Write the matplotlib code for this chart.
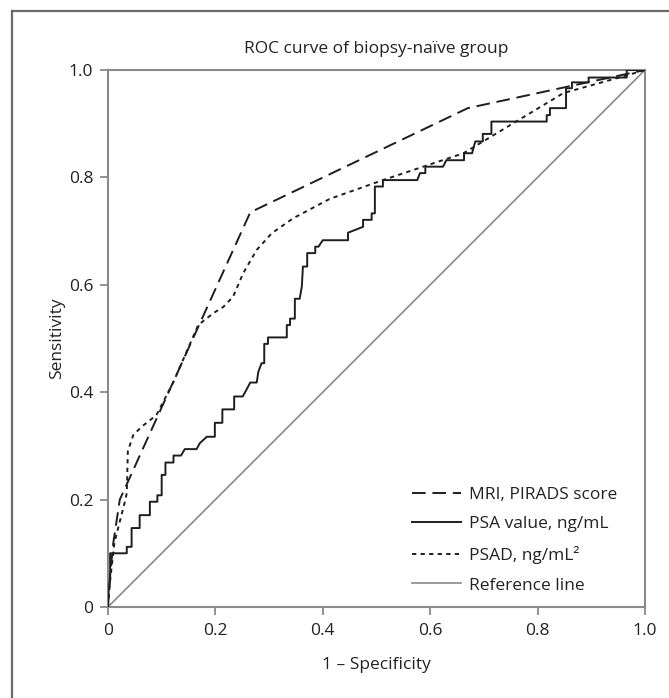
import matplotlib
matplotlib.use("Agg")
import matplotlib.pyplot as plt
from matplotlib.lines import Line2D

plt.rcParams['font.family'] = ['Open Sans', 'DejaVu Sans']

# MRI, PIRADS score (piecewise linear ROC)
mri_fpr = [0, 0.004, 0.010, 0.022, 0.265, 0.670, 1.0]
mri_tpr = [0, 0.060, 0.120, 0.200, 0.735, 0.929, 1.0]

# PSAD, ng/mL2
psad_fpr = [0, 0.004, 0.012, 0.030, 0.035, 0.037, 0.047, 0.063, 0.090, 0.121, 0.168,
            0.196, 0.215, 0.233, 0.252, 0.277, 0.305, 0.345, 0.413, 0.512, 0.662,
            0.755, 0.848, 0.966, 1.0]
psad_tpr = [0, 0.050, 0.120, 0.190, 0.212, 0.290, 0.320, 0.336, 0.357, 0.417, 0.525,
            0.547, 0.559, 0.578, 0.622, 0.665, 0.696, 0.724, 0.760, 0.795, 0.845,
            0.901, 0.957, 0.990, 1.0]

# PSA value, ng/mL (step ROC)
psa_fpr = [0, 0, 0.004, 0.004, 0.035, 0.035, 0.044, 0.044, 0.059, 0.059, 0.078, 0.078,
           0.092, 0.092, 0.100, 0.100, 0.107, 0.107, 0.122, 0.122, 0.136, 0.143, 0.165,
           0.171, 0.184, 0.199, 0.199, 0.213, 0.213, 0.235, 0.235, 0.251, 0.265, 0.277,
           0.280, 0.286, 0.291, 0.291, 0.298, 0.298, 0.333, 0.333, 0.339, 0.339, 0.348,
           0.348, 0.357, 0.361, 0.363, 0.371, 0.371, 0.386, 0.386, 0.392, 0.400, 0.447,
           0.447, 0.475, 0.475, 0.491, 0.491, 0.497, 0.497, 0.512, 0.512, 0.576, 0.581,
           0.591, 0.591, 0.624, 0.630, 0.663, 0.663, 0.678, 0.684, 0.698, 0.698, 0.714,
           0.714, 0.817, 0.817, 0.823, 0.823, 0.853, 0.853, 0.864, 0.864, 0.895, 0.895,
           0.966, 0.966, 1.0]
psa_tpr = [0, 0.020, 0.050, 0.100, 0.100, 0.112, 0.112, 0.147, 0.147, 0.171, 0.171, 0.196,
           0.196, 0.208, 0.208, 0.246, 0.246, 0.269, 0.269, 0.282, 0.282, 0.294, 0.294,
           0.305, 0.317, 0.317, 0.343, 0.343, 0.368, 0.368, 0.392, 0.392, 0.418, 0.418,
           0.438, 0.454, 0.454, 0.490, 0.490, 0.502, 0.502, 0.525, 0.525, 0.537, 0.537,
           0.574, 0.574, 0.597, 0.634, 0.634, 0.659, 0.659, 0.671, 0.671, 0.683, 0.683,
           0.697, 0.708, 0.721, 0.721, 0.733, 0.733, 0.783, 0.783, 0.795, 0.795, 0.808,
           0.808, 0.820, 0.820, 0.832, 0.832, 0.845, 0.845, 0.867, 0.867, 0.881, 0.881,
           0.904, 0.904, 0.916, 0.916, 0.929, 0.929, 0.966, 0.966, 0.977, 0.977, 0.986,
           0.986, 1.0, 1.0]

ref_x = [0, 1]
ref_y = [0, 1]

ticks = [0, 0.2, 0.4, 0.6, 0.8, 1.0]
tick_labels = ['0', '0.2', '0.4', '0.6', '0.8', '1.0']

dark = '#1e1e1e'
grey = '#8a8a8a'

fig = plt.figure(figsize=(6.69, 6.98), dpi=100)
ax = fig.add_axes([0.1614, 0.1304, 0.8027, 0.7693])

ax.plot(ref_x, ref_y, color=grey, lw=1.2, label='Reference line', zorder=2)
ax.plot(mri_fpr, mri_tpr, color=dark, lw=1.4, dashes=(7, 3.5), label='MRI, PIRADS score', zorder=3)
ax.plot(psa_fpr, psa_tpr, color=dark, lw=1.4, label='PSA value, ng/mL', zorder=3)
ax.plot(psad_fpr, psad_tpr, color=dark, lw=1.4, dashes=(2.2, 2.2), label='PSAD, ng/mL²', zorder=3)

ax.set_xlim(0, 1)
ax.set_ylim(0, 1)
ax.set_xticks(ticks)
ax.set_xticklabels(tick_labels)
ax.set_yticks(ticks)
ax.set_yticklabels(tick_labels)
for s in ax.spines.values():
    s.set_color(grey)
    s.set_linewidth(1.5)
ax.tick_params(direction='out', length=5.5, width=1.3, color=grey,
               labelsize=12.5, labelcolor='#222222', pad=5)
ax.tick_params(axis='x', pad=6)

ax.set_title('ROC curve of biopsy-naïve group', fontsize=12.5, color='#222222', pad=12)
ax.set_xlabel('1 – Specificity', fontsize=12.5, color='#222222', labelpad=13)
ax.set_ylabel('Sensitivity', fontsize=12.5, color='#222222', labelpad=3)

h = {l.get_label(): l for l in ax.get_lines()}
order = ['MRI, PIRADS score', 'PSA value, ng/mL', 'PSAD, ng/mL²', 'Reference line']
ax.legend([h[k] for k in order], order, loc='lower left', bbox_to_anchor=(0.566, 0.025),
          frameon=False, fontsize=12.5, handlelength=2.8, handletextpad=0.5,
          labelspacing=0.78, borderpad=0, borderaxespad=0, labelcolor='#222222')

# outer frame (left and top edges visible)
fig.add_artist(Line2D([12 / 669, 12 / 669], [0, 1 - 11 / 698], transform=fig.transFigure,
                      color='#6a6a6a', lw=1.6))
fig.add_artist(Line2D([12 / 669, 1], [1 - 11 / 698, 1 - 11 / 698], transform=fig.transFigure,
                      color='#6a6a6a', lw=1.6))

fig.savefig('out.png', dpi=100)
